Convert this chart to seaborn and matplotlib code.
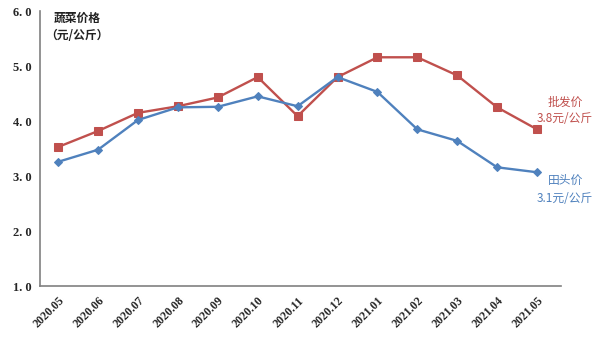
import matplotlib
matplotlib.use("Agg")
import matplotlib.pyplot as plt
import seaborn as sns
import pandas as pd

months = ["2020.05", "2020.06", "2020.07", "2020.08", "2020.09", "2020.10", "2020.11",
          "2020.12", "2021.01", "2021.02", "2021.03", "2021.04", "2021.05"]
wholesale = [3.53, 3.82, 4.15, 4.27, 4.43, 4.80, 4.09, 4.80, 5.16, 5.16, 4.83, 4.25, 3.85]
farm = [3.26, 3.48, 4.02, 4.25, 4.26, 4.45, 4.27, 4.80, 4.53, 3.85, 3.64, 3.16, 3.07]
y_ticks = [1.0, 2.0, 3.0, 4.0, 5.0, 6.0]

sns.set_theme(style="white")
plt.rcParams['font.family'] = ['Liberation Serif', 'Noto Sans CJK SC', 'DejaVu Sans']

RED = "#C0504D"
BLUE = "#4F81BD"

df = pd.DataFrame({"idx": range(len(months)), "month": months,
                   "批发价": wholesale, "田头价": farm})

fig = plt.figure(figsize=(6, 3.46), dpi=100)
ax = fig.add_axes([0.067, 0.173, 0.868, 0.795])

sns.lineplot(data=df, x="idx", y="批发价", ax=ax, color=RED, marker="s",
             markersize=6, markeredgecolor=RED, linewidth=1.7, zorder=3)
sns.lineplot(data=df, x="idx", y="田头价", ax=ax, color=BLUE, marker="D",
             markersize=4.5, markeredgecolor=BLUE, linewidth=1.7, zorder=3)

ax.set_xlim(-0.45, 12.6)
ax.set_ylim(1.0, 6.0)
ax.set_yticks(y_ticks)
ax.set_yticklabels([f"{v:.1f}".replace(".", ". ") for v in y_ticks],
                   fontsize=9, fontweight="bold")
ax.set_xticks(range(len(months)))
ax.set_xticklabels(months, rotation=45, ha="right", rotation_mode="anchor",
                   fontsize=8.5, fontweight="bold")
ax.set_xlabel("")
ax.set_ylabel("")

for s in ["top", "right"]:
    ax.spines[s].set_visible(False)
for s in ["left", "bottom"]:
    ax.spines[s].set_color("#808080")
    ax.spines[s].set_linewidth(1.2)
ax.tick_params(axis="both", which="both", direction="out", length=4,
               width=1, color="#808080", pad=2)

cjk = ['Noto Sans CJK SC', 'DejaVu Sans']
fig.text(0.128, 0.948, "蔬菜价格", family=cjk, fontsize=8.5, fontweight="bold",
         ha="center", va="center", color="#222222")
fig.text(0.128, 0.898, "（元/公斤）", family=cjk, fontsize=8.5, fontweight="bold",
         ha="center", va="center", color="#222222")

fig.text(0.942, 0.703, "批发价", family=cjk, fontsize=8.5, ha="center",
         va="center", color=RED)
fig.text(0.942, 0.658, "3.8元/公斤", family=cjk, fontsize=8.5, ha="center",
         va="center", color=RED)
fig.text(0.942, 0.48, "田头价", family=cjk, fontsize=8.5, ha="center",
         va="center", color=BLUE)
fig.text(0.942, 0.425, "3.1元/公斤", family=cjk, fontsize=8.5, ha="center",
         va="center", color=BLUE)

fig.savefig("out.png", dpi=100)
